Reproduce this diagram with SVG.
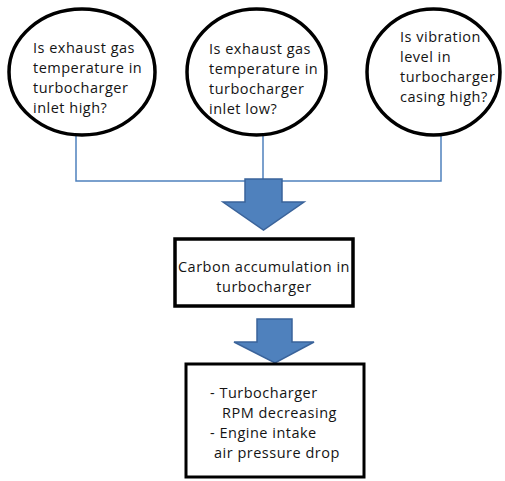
<svg xmlns="http://www.w3.org/2000/svg" width="505" height="481" viewBox="0 0 505 481">
  <style>
    .q { fill: #ffffff; stroke: #000000; stroke-width: 3.5; }
    .box { fill: #ffffff; stroke: #000000; stroke-width: 3.5; }
    .t { font-family: "Open Sans", "Noto Sans", sans-serif; font-size: 14.5px; letter-spacing: 0.5px; fill: #141414; }
    .link { fill: none; stroke: #4f81bd; stroke-width: 1.5; }
    .flow { fill: #4f81bd; stroke: #3a639a; stroke-width: 1.5; stroke-linejoin: miter; }
  </style>
  <rect width="505" height="481" fill="#ffffff"/>

  <!-- connectors joining the three questions, and the two flow arrows -->
  <g id="connectors">
    <polyline class="link" points="76,136 76,181 441,181 441,136"/>
    <line class="link" x1="263" y1="136" x2="263" y2="181"/>
    <polygon class="flow" points="245,179 282,179 282,202 304,202 263.5,230 223,202 245,202"/>
    <polygon class="flow" points="257,319 292,319 292,342 314,342 275,363 234,342 257,342"/>
  </g>

  <g id="q-temp-high">
    <ellipse class="q" cx="82" cy="72" rx="73" ry="63"/>
    <text class="t" x="33" y="53">Is exhaust gas</text>
    <text class="t" x="33" y="73">temperature in</text>
    <text class="t" x="33" y="93">turbocharger</text>
    <text class="t" x="33" y="113">inlet high?</text>
  </g>

  <g id="q-temp-low">
    <ellipse class="q" cx="256.5" cy="72" rx="69.5" ry="63"/>
    <text class="t" x="209" y="54">Is exhaust gas</text>
    <text class="t" x="209" y="74">temperature in</text>
    <text class="t" x="209" y="94">turbocharger</text>
    <text class="t" x="209" y="114">inlet low?</text>
  </g>

  <g id="q-vibration">
    <ellipse class="q" cx="433.5" cy="72" rx="66.5" ry="63"/>
    <text class="t" x="400" y="42">Is vibration</text>
    <text class="t" x="400" y="62">level in</text>
    <text class="t" x="400" y="82">turbocharger</text>
    <text class="t" x="400" y="102">casing high?</text>
  </g>

  <g id="carbon">
    <rect class="box" x="175" y="239" width="178" height="67"/>
    <text class="t" x="264" y="272" text-anchor="middle">Carbon accumulation in</text>
    <text class="t" x="264" y="292" text-anchor="middle">turbocharger</text>
  </g>

  <g id="symptoms">
    <rect class="box" x="186" y="364" width="178" height="113" style="stroke-width:3"/>
    <text class="t" x="210" y="398">- Turbocharger</text>
    <text class="t" x="222" y="418">RPM decreasing</text>
    <text class="t" x="210" y="438">- Engine intake</text>
    <text class="t" x="214" y="458">air pressure drop</text>
  </g>
</svg>
